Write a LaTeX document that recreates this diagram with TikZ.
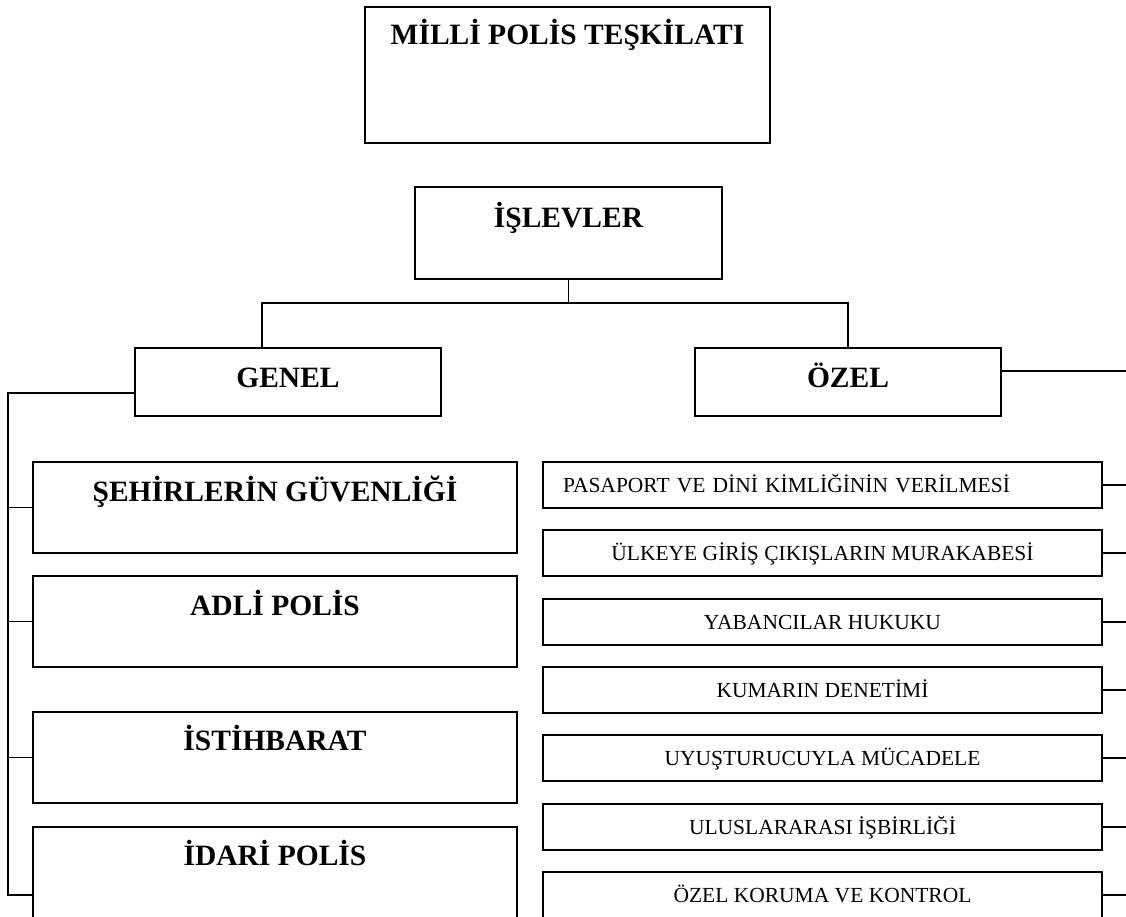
\documentclass[tikz,border=0pt]{standalone}
\usepackage{fontspec}
\setmainfont{Liberation Serif}
\newcommand{\bigfont}{\fontsize{29.5}{35}\selectfont\bfseries}
\newcommand{\smallfont}{\fontsize{21.5}{26}\selectfont}
\tikzset{
  bigbox/.style={rectangle, draw, line width=2.2pt, anchor=north west, inner sep=0pt, outer sep=0pt, font=\bigfont},
  smallbox/.style={rectangle, draw, line width=2.2pt, anchor=north west, inner sep=0pt, outer sep=0pt, font=\smallfont,
    minimum width=559pt, text height=30pt, text depth=16pt},
  link/.style={line width=1.6pt}
}
\begin{document}
\begin{tikzpicture}[x=1pt, y=-1pt]
\useasboundingbox (0,0) rectangle (1126,917);
% head boxes
\node [bigbox, minimum width=405pt, text height=38pt, text depth=98pt] (top) at (365,7) {MİLLİ POLİS TEŞKİLATI};
\node [bigbox, minimum width=307pt, text height=41pt, text depth=51pt] (func) at (415,187) {İŞLEVLER};
\node [bigbox, minimum width=306pt, text height=39pt, text depth=29pt] (genel) at (135,348) {GENEL};
\node [bigbox, minimum width=306pt, text height=39pt, text depth=29pt] (ozel) at (695,348) {ÖZEL};
% left column
\node [bigbox, minimum width=484pt, text height=39pt, text depth=52pt] (g1) at (33,462) {ŞEHİRLERİN GÜVENLİĞİ};
\node [bigbox, minimum width=484pt, text height=39pt, text depth=52pt] (g2) at (33,576) {ADLİ POLİS};
\node [bigbox, minimum width=484pt, text height=38pt, text depth=53pt] (g3) at (33,712) {İSTİHBARAT};
\node [bigbox, minimum width=484pt, text height=38pt, text depth=98pt] (g4) at (33,827) {İDARİ POLİS};
% right column
\node [smallbox, text width=519pt, align=left, inner xsep=20pt] (s1) at (543,462) {PASAPORT VE DİNİ KİMLİĞİNİN VERİLMESİ};
\node [smallbox] (s2) at (543,530) {ÜLKEYE GİRİŞ ÇIKIŞLARIN MURAKABESİ};
\node [smallbox] (s3) at (543,599) {YABANCILAR HUKUKU};
\node [smallbox] (s4) at (543,667) {KUMARIN DENETİMİ};
\node [smallbox] (s5) at (543,735) {UYUŞTURUCUYLA MÜCADELE};
\node [smallbox] (s6) at (543,804) {ULUSLARARASI İŞBİRLİĞİ};
\node [smallbox] (s7) at (543,872) {ÖZEL KORUMA VE KONTROL};
% connectors
\coordinate (bar) at (262,303);
\coordinate (lspine) at (8,0);
\coordinate (rspine) at (1126,0);
\draw [link] (func.south) -- (func.south |- bar);
\draw [link] (genel.north -| bar) -- (bar) -- (bar -| ozel.north) -- (ozel.north);
\draw [link] ([yshift=-11pt]genel.west) -- ([yshift=-11pt]genel.west -| lspine) -- (g4.west -| lspine) -- (g4.west);
\foreach \n in {g1,g2,g3}
  \draw [link] (\n.west) -- (\n.west -| lspine);
\draw [link] ([yshift=11pt]ozel.east) -- ([yshift=11pt]ozel.east -| rspine);
\foreach \n in {s1,s2,s3,s4,s5,s6,s7}
  \draw [link] (\n.east) -- (\n.east -| rspine);
\end{tikzpicture}
\end{document}
